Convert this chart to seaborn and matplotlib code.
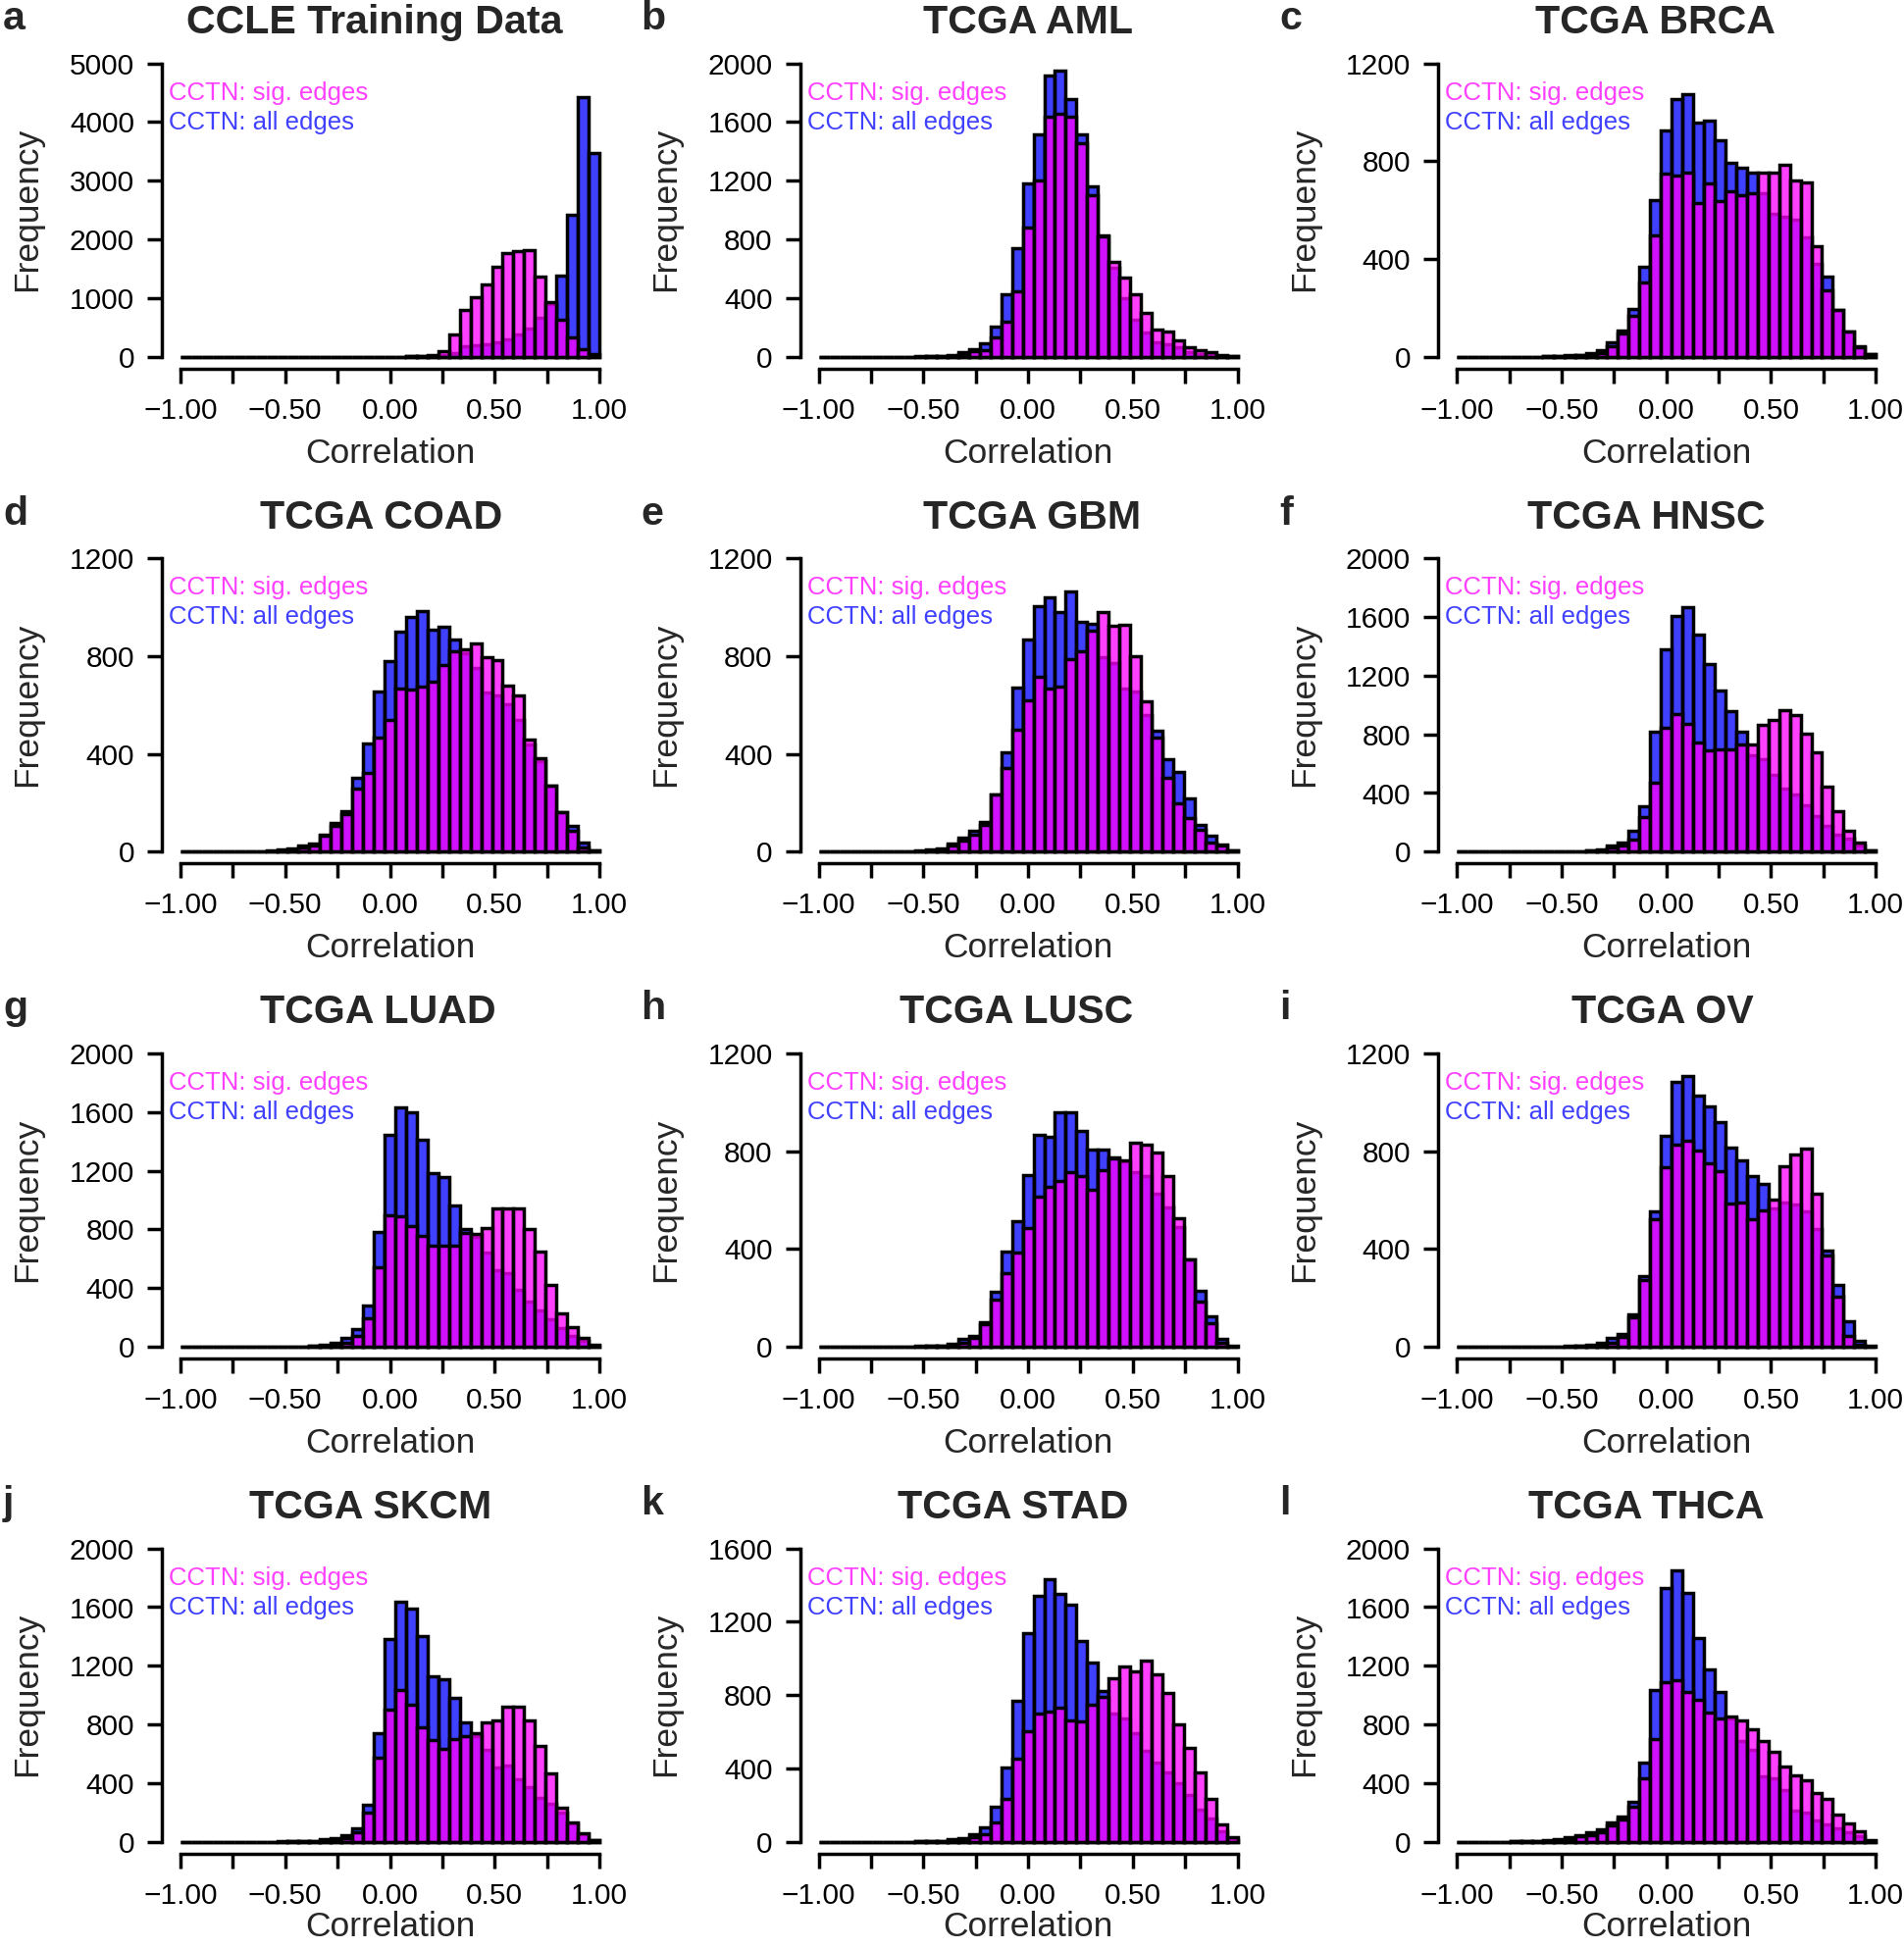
import numpy as np
import pandas as pd
import matplotlib
matplotlib.use("Agg")
import matplotlib.pyplot as plt
import seaborn as sns

# ---------------- data (counts per bin; 39 equal bins from -1 to 1) ----------------
bin_edges = [round(v, 6) for v in np.linspace(-1, 1, 40)]
bin_centers = [(a + b) / 2 for a, b in zip(bin_edges[:-1], bin_edges[1:])]

titles = ["CCLE Training Data", "TCGA AML", "TCGA BRCA", "TCGA COAD", "TCGA GBM", "TCGA HNSC",
          "TCGA LUAD", "TCGA LUSC", "TCGA OV", "TCGA SKCM", "TCGA STAD", "TCGA THCA"]
letters = list("abcdefghijkl")
y_max = [5000, 2000, 1200, 1200, 1200, 2000, 2000, 1200, 1200, 2000, 1600, 2000]
y_step = [1000, 400, 400, 400, 400, 400, 400, 400, 400, 400, 400, 400]

x_tick_values = [-1.0, -0.5, 0.0, 0.5, 1.0]
x_tick_labels = ["\u22121.00", "\u22120.50", "0.00", "0.50", "1.00"]
x_minor_ticks = [-0.75, -0.25, 0.25, 0.75]

legend_labels = ["CCTN: sig. edges", "CCTN: all edges"]

ccle_all = [0,0,0,0,0,0,0,0,0, 0,0,0,0,0,0,0,0,0,0, 0,0,3,6,12,30,60,180,200,215, 240,290,375,470,660,890,1385,2420,4430,3464]
ccle_sig = [0,0,0,0,0,0,0,0,0, 0,0,0,0,0,0,0,0,0,0, 0,0,2,5,20,100,380,800,1020,1230, 1525,1765,1805,1820,1357,938,630,335,128,45]

aml_all = [0,0,0,0,0,0,0,0,0, 2,4,7,13,29,51,89,208,424,737, 1178,1518,1920,1949,1759,1518,1161,826,609,397, 252,163,96,85,62,29,18,13,5,2]
aml_sig = [0,0,0,0,0,0,0,0,0, 0,1,3,6,18,40,45,130,241,446, 877,1200,1636,1658,1636,1457,1100,821,647,542, 424,297,185,170,112,67,45,29,8,3]

brca_all = [0,0,0,0,0,0,0,0,2, 3,5,8,14,27,58,107,194,368,640, 924,1055,1075,959,964,884,794,774,754,670, 584,573,562,490,378,326,190,104,44,10]
brca_sig = [0,0,0,0,0,0,0,0,1, 2,3,5,8,13,44,94,165,305,495, 750,740,754,627,707,637,678,660,667,754, 754,787,720,714,452,271,190,104,37,10]

coad_all = [0,0,0,0,0,0,0,3,5, 8,15,25,35,71,118,165,303,442,656, 780,901,959,985,910,921,868,810,750,653, 640,603,539,440,372,272,161,107,37,4]
coad_sig = [0,0,0,0,0,0,0,2,3, 5,10,17,24,64,107,154,259,322,466, 539,667,663,677,695,764,820,828,854,794, 785,678,640,460,383,272,161,84,17,4]

gbm_all = [0,0,0,0,0,0,0,2,3, 5,8,15,35,58,84,121,234,406,673, 870,1004,1042,982,1066,941,932,794,771,667, 656,560,493,378,325,218,110,64,31,4]
gbm_sig = [0,0,0,0,0,0,0,1,2, 3,5,10,24,44,71,111,234,343,500, 620,714,667,674,787,820,905,981,924,928, 801,616,466,304,198,138,90,37,24,4]

hnsc_all = [0,0,0,0,0,0,0,0,0, 2,3,5,10,18,40,62,140,312,817, 1380,1607,1670,1480,1280,1100,960,817,656,634, 525,431,391,319,241,179,118,89,45,7]
hnsc_sig = [0,0,0,0,0,0,0,0,0, 1,2,3,6,12,29,40,85,237,469, 844,937,870,743,688,700,700,732,732,866, 900,967,933,804,676,446,275,141,62,7]

luad_all = [0,0,0,0,0,0,0,0,0, 0,2,3,6,12,25,58,118,281,781, 1446,1630,1600,1413,1183,1160,964,800,750,643, 520,504,386,308,250,185,125,74,40,10]
luad_sig = [0,0,0,0,0,0,0,0,0, 0,1,2,4,8,15,29,74,196,542, 897,888,821,757,690,690,690,775,772,808, 946,940,946,801,647,424,230,134,62,13]

lusc_all = [0,0,0,0,0,0,0,0,2, 3,4,6,13,31,44,102,225,388,513, 704,868,857,959,959,884,807,807,774,758, 714,700,627,571,490,359,227,124,31,4]
lusc_sig = [0,0,0,0,0,0,0,0,1, 2,3,4,8,17,35,91,191,302,386, 486,616,653,678,714,697,643,723,771,763, 834,827,794,700,526,359,185,98,17,2]

ov_all = [0,0,0,0,0,0,0,0,0, 2,3,5,10,18,35,54,134,289,553, 861,1082,1106,1026,982,919,814,763,700,667, 567,589,580,553,482,392,251,104,24,4]
ov_sig = [0,0,0,0,0,0,0,0,0, 1,2,3,6,10,17,40,120,271,523, 736,828,841,803,750,720,586,589,520,557, 603,740,787,810,627,372,205,44,10,2]

skcm_all = [0,0,0,0,0,0,0,0,0, 2,3,5,7,15,25,45,89,252,743, 1384,1636,1591,1406,1129,1111,982,817,721,629, 509,520,424,370,297,259,200,125,51,10]
skcm_sig = [0,0,0,0,0,0,0,0,0, 1,2,3,5,8,12,22,67,201,571, 900,1034,933,781,692,632,700,721,743,817, 826,922,922,826,654,469,230,130,58,13]

stad_all = [0,0,0,0,0,0,0,0,0, 3,4,6,12,22,41,77,189,407,768, 1139,1340,1434,1350,1291,1095,980,822,702,675, 595,497,434,380,320,255,175,129,59,11]
stad_sig = [0,0,0,0,0,0,0,0,0, 2,3,4,7,12,23,41,107,232,452, 604,697,711,734,661,654,750,791,893,957, 929,988,911,814,643,511,380,232,95,23]

thca_all = [0,0,0,0,0,3,5,8,12, 15,29,45,62,85,129,170,275,538,1034, 1732,1848,1696,1391,1178,1022,844,685,627,444, 433,350,214,200,147,118,89,62,36,7]
thca_sig = [0,0,0,0,0,2,3,5,8, 10,20,35,45,67,112,152,237,431,700, 1089,1100,1022,966,884,839,855,826,766,688, 614,511,453,420,330,290,185,125,74,13]

all_edges = [ccle_all, aml_all, brca_all, coad_all, gbm_all, hnsc_all,
             luad_all, lusc_all, ov_all, skcm_all, stad_all, thca_all]
sig_edges = [ccle_sig, aml_sig, brca_sig, coad_sig, gbm_sig, hnsc_sig,
             luad_sig, lusc_sig, ov_sig, skcm_sig, stad_sig, thca_sig]

# ---------------- layout / style ----------------
BLUE = (0, 0, 1, 0.75)
PINK = (1, 0, 1, 0.75)
W, H, DPI = 1941, 1986, 100
PT = 72.0 / DPI  # points per pixel
LW = 2.5

# small horizontal nudges of the panel titles (pixels)
title_dx = [-16, 0, -11, -9, 4, -20, -12, -12, -4, -20, -15, -20]

sns.set_theme(style="ticks")
plt.rcParams['font.family'] = ['Liberation Sans', 'DejaVu Sans']

fig = plt.figure(figsize=(W / DPI, H / DPI), dpi=DPI)

def fx(px):
    return px / W

def fy(py):
    return 1 - py / H

COL_DX = 650.6
ROW_DY = 504.7
UNIT = 213.5  # px per correlation unit

for k in range(12):
    r, c = divmod(k, 3)
    X0 = 184 + COL_DX * c          # pixel of x = -1
    Y0 = 363.6 + ROW_DY * r        # pixel of y = 0 (from top)
    left = X0 - 0.08 * UNIT
    width = 2.16 * UNIT
    height = 299.0
    ax = fig.add_axes([fx(left), fy(Y0), width / W, height / H])

    df = pd.DataFrame({"corr": bin_centers, "all": all_edges[k], "sig": sig_edges[k]})
    sns.histplot(data=df, x="corr", weights="all", bins=bin_edges, color=BLUE[:3],
                 alpha=0.75, edgecolor="black", linewidth=LW, ax=ax)
    sns.histplot(data=df, x="corr", weights="sig", bins=bin_edges, color=PINK[:3],
                 alpha=0.75, edgecolor="black", linewidth=LW, ax=ax)
    for p in ax.patches:
        p.set_clip_on(False)

    ax.set_xlim(-1.08, 1.08)
    ax.set_ylim(0, y_max[k])
    ax.set_xlabel("")
    ax.set_ylabel("")
    for s in ["top", "right"]:
        ax.spines[s].set_visible(False)
    ax.spines["left"].set_position(("outward", 2 * PT))
    ax.spines["bottom"].set_position(("outward", 12 * PT))
    ax.spines["left"].set_bounds(0, y_max[k])
    ax.spines["bottom"].set_bounds(-1, 1)
    for s in ["left", "bottom"]:
        ax.spines[s].set_linewidth(LW)
        ax.spines[s].set_color("black")

    ax.set_xticks(x_tick_values)
    ax.set_xticklabels(x_tick_labels)
    ax.set_xticks(x_minor_ticks, minor=True)
    yt = list(range(0, y_max[k] + 1, y_step[k]))
    ax.set_yticks(yt)
    ax.set_yticklabels([str(v) for v in yt])
    ax.tick_params(axis="both", which="both", direction="out", length=15 * PT,
                   width=LW, color="black", labelsize=21.5, labelcolor="black")
    ax.tick_params(axis="y", pad=13 * PT)
    ax.tick_params(axis="x", pad=14 * PT)
    ax.grid(False)

    tr = ax.get_xaxis_transform()
    ax.text(-1.055, 1 - 30 / height, legend_labels[0], transform=tr, color=PINK,
            fontsize=18.5, ha="left", va="center")
    ax.text(-1.055, 1 - 60 / height, legend_labels[1], transform=tr, color=BLUE,
            fontsize=18.5, ha="left", va="center")

    fig.text(fx(X0 + UNIT + title_dx[k]), fy(34 + ROW_DY * r), titles[k], ha="center",
             va="baseline", fontsize=29.6, fontweight="bold")
    fig.text(fx(3 + COL_DX * c), fy(30 + ROW_DY * r), letters[k], ha="left", va="baseline",
             fontsize=29.6, fontweight="bold")
    # axis label below the x axis (kept inside the canvas for the bottom row)
    xlab_y = min(462 + ROW_DY * r, H - 21)
    fig.text(fx(X0 + UNIT), fy(xlab_y), "Correlation", ha="center", va="center",
             fontsize=25.5)
    fig.text(fx(28 + COL_DX * c), fy(Y0 - 150), "Frequency", ha="center", va="center",
             rotation=90, fontsize=25.5)

fig.savefig("out.png", dpi=DPI, facecolor="white")
